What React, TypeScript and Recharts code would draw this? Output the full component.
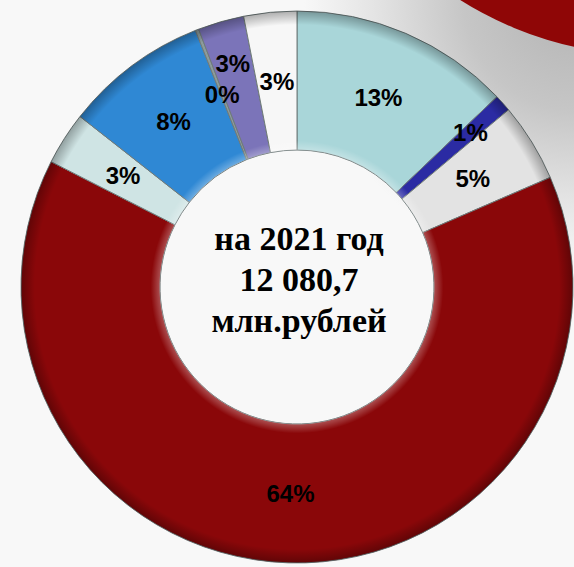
import React from 'react';
import { PieChart, Pie, Cell, Label } from 'recharts';

// structure shares, % of total
const categories = ['Налог на доходы', 'Акцизы', 'Налоги на имущество', 'Безвозмездные поступления', 'Госпошлина', 'Налоги на совокупный доход', 'Прочие', 'Доходы от имущества', 'Неналоговые доходы'];
const shares = [12.9, 1.0, 4.6, 64.0, 3.1, 8.4, 0.2, 2.7, 3.1];
const sliceColors = ['#a9d6d9', '#2b2ba3', '#e3e3e3', '#8a0709', '#cfe4e4', '#2f88d4', '#8c9c9c', '#7b74b9', '#f7f7f7'];
const centerLines = ['на 2021 год', '12 080,7', 'млн.рублей'];

const data = categories.map((name, i) => ({ name, value: shares[i] }));

const RAD = Math.PI / 180;
const CX = 297;
const CY = 287;
// labels of the thin slices sit closer to the outer edge
const pushedOut = new Set([1, 7]);

const renderLabel = (props: any) => {
    const { cx, cy, midAngle, innerRadius, outerRadius, percent, index } = props;
    let r = (innerRadius + outerRadius) / 2;
    if (pushedOut.has(index)) r += 26;
    const x = cx + r * Math.cos(-midAngle * RAD);
    const y = cy + r * Math.sin(-midAngle * RAD);
    return (
        <text x={x} y={y} textAnchor="middle" dominantBaseline="central"
            fontFamily="'Liberation Sans', Arial, sans-serif" fontWeight="bold" fontSize={24} fill="#000">
            {`${Math.round(percent * 100)}%`}
        </text>
    );
};

const CenterText = ({ x, y }: { x: number; y: number }) => (
    <text x={x} textAnchor="middle" fontFamily="'Liberation Serif', 'Times New Roman', serif"
        fontWeight="bold" fontSize={34} fill="#000">
        {centerLines.map((line, i) => (
            <tspan key={i} x={x + 2} y={y - 37 + i * 41}>{line}</tspan>
        ))}
    </text>
);

const App: React.FC = () => {
    return (
        <div style={{
            position: 'absolute', left: 0, top: 0, width: 574, height: 567, overflow: 'hidden',
            background: 'radial-gradient(circle at 100% 0%, #b3b3b3 0px, #c6c6c6 110px, #e4e4e4 200px, #f8f8f8 270px)',
        }}>
            {/* red swoosh in the slide corner */}
            <div style={{
                position: 'absolute', left: 295, top: -655, width: 710, height: 710, borderRadius: '50%',
                background: '#8f0606',
            }} />
            <div style={{ position: 'absolute', left: 0, top: 0 }}>
                <PieChart width={574} height={567} margin={{ top: 0, right: 0, bottom: 0, left: 0 }}>
                    <defs>
                        <radialGradient id="bevel" gradientUnits="userSpaceOnUse" cx={CX} cy={CY} r={276}>
                            <stop offset="0.49" stopColor="#ffffff" stopOpacity={0.35} />
                            <stop offset="0.53" stopColor="#ffffff" stopOpacity={0} />
                            <stop offset="0.95" stopColor="#000000" stopOpacity={0} />
                            <stop offset="1" stopColor="#000000" stopOpacity={0.3} />
                        </radialGradient>
                    </defs>
                    <Pie data={data} dataKey="value" cx={CX} cy={CY} innerRadius={137} outerRadius={276}
                        startAngle={90} endAngle={-270} stroke="#6f7a7a" strokeWidth={1}
                        isAnimationActive={false}>
                        {data.map((d, i) => <Cell key={d.name} fill={sliceColors[i]} />)}
                    </Pie>
                    <Pie data={data} dataKey="value" cx={CX} cy={CY} innerRadius={137} outerRadius={276}
                        startAngle={90} endAngle={-270} fill="url(#bevel)" stroke="none"
                        label={renderLabel} labelLine={false} isAnimationActive={false}>
                        <Label content={() => <CenterText x={CX} y={CY} />} position="center" />
                    </Pie>
                </PieChart>
            </div>
        </div>
    );
};

export default App;
